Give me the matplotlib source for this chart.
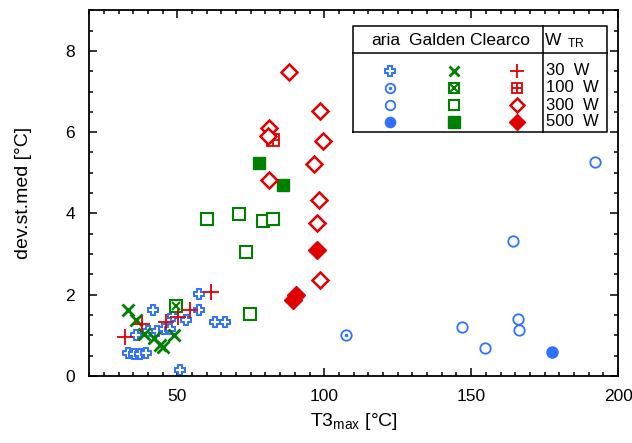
import matplotlib
matplotlib.use('Agg')
import matplotlib.pyplot as plt
from matplotlib.ticker import MultipleLocator

plt.rcParams['font.family'] = ['Liberation Sans', 'DejaVu Sans']
plt.rcParams['mathtext.fontset'] = 'custom'
plt.rcParams['mathtext.rm'] = 'Liberation Sans'
plt.rcParams['mathtext.it'] = 'Liberation Sans:italic'

BLUE = '#2f72ff'
GREEN = '#008000'
RED = '#e00000'

# T3max [°C] vs dev.st.med [°C], one pair of lists per fluid / power
aria_30_x = [41.7, 35.9, 40.0, 43.1, 45.4, 47.5, 33.2, 35.3, 37.3, 39.3, 48.6, 52.9, 57.3, 57.3, 62.7, 66.1, 50.8]
aria_30_y = [1.62, 1.01, 1.11, 1.11, 1.17, 1.17, 0.57, 0.55, 0.54, 0.57, 1.49, 1.38, 1.63, 2.01, 1.33, 1.33, 0.16]
aria_100_x = [107.4]
aria_100_y = [1.02]
aria_300_x = [164.4, 146.9, 154.6, 165.9, 166.3, 192.2]
aria_300_y = [3.32, 1.20, 0.70, 1.41, 1.13, 5.27]
aria_500_x = [177.6]
aria_500_y = [0.59]

galden_30_x = [33.3, 36.1, 38.6, 42.0, 44.1, 45.1, 48.8]
galden_30_y = [1.62, 1.39, 1.04, 0.93, 0.76, 0.71, 1.02]
galden_100_x = [49.5]
galden_100_y = [1.72]
galden_300_x = [60.2, 70.9, 79.3, 82.6, 73.5, 74.6]
galden_300_y = [3.87, 3.98, 3.81, 3.87, 3.06, 1.52]
galden_500_x = [77.7, 85.9]
galden_500_y = [5.25, 4.69]

clearco_30_x = [32.2, 37.9, 46.1, 50.3, 54.2, 61.6]
clearco_30_y = [0.97, 1.28, 1.33, 1.46, 1.62, 2.07]
clearco_100_x = [82.7]
clearco_100_y = [5.81]
clearco_300_x = [87.9, 98.6, 81.1, 80.8, 99.7, 96.6, 81.1, 98.1, 97.7, 98.6]
clearco_300_y = [7.47, 6.53, 6.11, 5.90, 5.78, 5.21, 4.83, 4.32, 3.77, 2.36]
clearco_500_x = [97.7, 90.4, 89.3]
clearco_500_y = [3.10, 1.99, 1.88]

powers = ['30  W', '100  W', '300  W', '500  W']


def draw(ax, x, y, kind, color, s=1.0, **kw):
    # each kind may need two stacked markers (boxed x, dotted circle...)
    if kind == 'plus_open':
        ax.plot(x, y, 'P', ms=7.5 * s, mfc='white', mec=color, mew=1.4, ls='none', **kw)
    elif kind == 'circle_dot':
        ax.plot(x, y, 'o', ms=7.5 * s, mfc='white', mec=color, mew=1.3, ls='none', **kw)
        ax.plot(x, y, 'o', ms=1.5 * s, color=color, ls='none', **kw)
    elif kind == 'circle':
        ax.plot(x, y, 'o', ms=7.5 * s, mfc='white', mec=color, mew=1.3, ls='none', **kw)
    elif kind == 'circle_fill':
        ax.plot(x, y, 'o', ms=8 * s, color=color, ls='none', **kw)
    elif kind == 'x':
        ax.plot(x, y, 'x', ms=8.5 * s, mec=color, mew=2.0, ls='none', **kw)
    elif kind == 'square_x':
        ax.plot(x, y, 's', ms=8 * s, mfc='white', mec=color, mew=1.5, ls='none', **kw)
        ax.plot(x, y, 'x', ms=5.5 * s, mec=color, mew=1.5, ls='none', **kw)
    elif kind == 'square':
        ax.plot(x, y, 's', ms=8 * s, mfc='white', mec=color, mew=1.5, ls='none', **kw)
    elif kind == 'square_fill':
        ax.plot(x, y, 's', ms=9 * s, color=color, ls='none', **kw)
    elif kind == 'plus':
        ax.plot(x, y, '+', ms=11 * s, mec=color, mew=1.3, ls='none', **kw)
    elif kind == 'square_plus':
        ax.plot(x, y, 's', ms=8 * s, mfc='white', mec=color, mew=1.3, ls='none', **kw)
        ax.plot(x, y, '+', ms=8 * s, mec=color, mew=1.3, ls='none', **kw)
    elif kind == 'diamond':
        ax.plot(x, y, 'D', ms=8 * s, mfc='white', mec=color, mew=1.8, ls='none', **kw)
    elif kind == 'diamond_fill':
        ax.plot(x, y, 'D', ms=9 * s, color=color, mec=color, ls='none', **kw)


series = [
    (aria_30_x, aria_30_y, 'plus_open', BLUE),
    (aria_100_x, aria_100_y, 'circle_dot', BLUE),
    (aria_300_x, aria_300_y, 'circle', BLUE),
    (aria_500_x, aria_500_y, 'circle_fill', BLUE),
    (galden_30_x, galden_30_y, 'x', GREEN),
    (galden_100_x, galden_100_y, 'square_x', GREEN),
    (galden_300_x, galden_300_y, 'square', GREEN),
    (galden_500_x, galden_500_y, 'square_fill', GREEN),
    (clearco_30_x, clearco_30_y, 'plus', RED),
    (clearco_100_x, clearco_100_y, 'square_plus', RED),
    (clearco_300_x, clearco_300_y, 'diamond', RED),
    (clearco_500_x, clearco_500_y, 'diamond_fill', RED),
]

fig = plt.figure(figsize=(6.32, 4.43), dpi=100)
ax = fig.add_axes([0.141, 0.151, 0.837, 0.826])

for x, y, kind, color in series:
    draw(ax, x, y, kind, color, clip_on=False)

ax.set_xlim(20, 200)
ax.set_ylim(0, 9)
ax.xaxis.set_major_locator(MultipleLocator(50))
ax.xaxis.set_minor_locator(MultipleLocator(5))
ax.yaxis.set_major_locator(MultipleLocator(2))
ax.yaxis.set_minor_locator(MultipleLocator(0.5))
ax.tick_params(which='both', direction='in', top=True, right=True, width=1.1, labelsize=12.5)
ax.tick_params(which='major', length=6)
ax.tick_params(which='minor', length=3)
ax.tick_params(axis='x', which='major', pad=9)
ax.tick_params(axis='y', which='major', pad=10)
for sp in ax.spines.values():
    sp.set_linewidth(1.3)

ax.set_xlabel(r'T3$_{\rm max}$ [°C]', fontsize=14, labelpad=5)
ax.set_ylabel('dev.st.med [°C]', fontsize=14, labelpad=24)

# table-like legend, drawn in axes fraction
tr = ax.transAxes
L, R, T, B = 0.499, 0.979, 0.956, 0.667
HY, VX = 0.883, 0.858
ax.plot([L, R, R, L, L], [B, B, T, T, B], color='black', lw=1.1, transform=tr, clip_on=False)
ax.plot([L, R], [HY, HY], color='black', lw=1.1, transform=tr)
ax.plot([VX, VX], [B, T], color='black', lw=1.1, transform=tr)
ax.text(0.561, 0.918, 'aria', transform=tr, ha='center', va='center', fontsize=12.5)
ax.text(0.720, 0.918, 'Galden Clearco', transform=tr, ha='center', va='center', fontsize=12.5)
ax.text(0.859, 0.918, r'W$_{\rm \ \ TR}$', transform=tr, ha='left', va='center', fontsize=12.5)

row_y = [0.834, 0.788, 0.740, 0.695]
col_x = [0.569, 0.689, 0.808]
for i, (x, y, kind, color) in enumerate(series):
    col, row = divmod(i, 4)
    draw(ax, [col_x[col]], [row_y[row]], kind, color, s=0.92, transform=tr, clip_on=False)
for yy, lab in zip(row_y, powers):
    ax.text(0.864, yy, lab, transform=tr, ha='left', va='center', fontsize=12)

fig.savefig('out.png', dpi=100)
